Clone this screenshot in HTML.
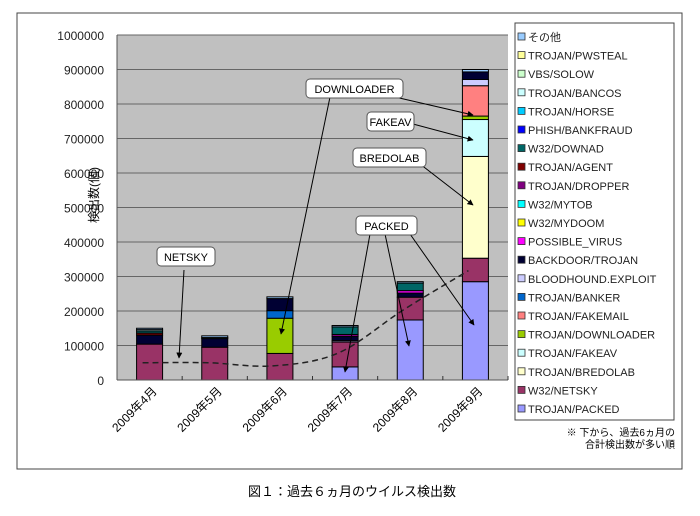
<!DOCTYPE html>
<html><head><meta charset="utf-8"><style>
body{margin:0;background:#fff;}
svg text{font-family:"Liberation Sans","Noto Sans CJK JP",sans-serif;}
</style></head><body>
<svg id="c" width="700" height="511" xmlns="http://www.w3.org/2000/svg">
<rect x="17" y="13" width="665" height="456" fill="#fff" stroke="#444" stroke-width="1"/>
<rect x="117" y="35" width="391" height="345" fill="#c0c0c0"/>
<g id="grid"></g><g id="bars"></g><g id="trend"></g><g id="ann"></g><g id="axes"></g><g id="legend"></g>
<text x="20" y="275" font-size="12" transform="rotate(-90 33 210)">検出数(個)</text>
<text x="675" y="436" font-size="10" text-anchor="end">※ 下から、過去6ヵ月の</text>
<text x="675" y="448" font-size="10" text-anchor="end">合計検出数が多い順</text>
<text x="352" y="496" font-size="13" text-anchor="middle">図１：過去６ヵ月のウイルス検出数</text>
</svg>
<script>
const categories=["2009年4月","2009年5月","2009年6月","2009年7月","2009年8月","2009年9月"];
const seriesNames=["TROJAN/PACKED","W32/NETSKY","TROJAN/BREDOLAB","TROJAN/FAKEAV","TROJAN/DOWNLOADER","TROJAN/FAKEMAIL","TROJAN/BANKER","BLOODHOUND.EXPLOIT","BACKDOOR/TROJAN","POSSIBLE_VIRUS","W32/MYDOOM","W32/MYTOB","TROJAN/DROPPER","TROJAN/AGENT","W32/DOWNAD","PHISH/BANKFRAUD","TROJAN/HORSE","TROJAN/BANCOS","VBS/SOLOW","TROJAN/PWSTEAL","その他"];
const seriesColors=["#9999ff","#993366","#ffffcc","#ccffff","#99cc00","#ff8080","#0066cc","#ccccff","#000033","#ff00ff","#ffff00","#00ffff","#800080","#800000","#006666","#0000ff","#00ccff","#ccffff","#ccffcc","#ffff99","#99ccff"];
// values in thousands, per series, per month
const packed=[0,0,0,38,174,285];
const netsky=[104,95,77,72,66,68];
const bredolab=[0,0,0,0,0,295];
const fakeav=[0,0,0,0,0,107];
const downloader=[0,0,102,0,0,10];
const fakemail=[0,0,0,0,0,88];
const banker=[0,0,22,0,0,0];
const bloodhound=[0,0,0,4,0,18];
const backdoor=[26,25,35,12,12,22];
const possibleVirus=[0,0,0,0,7,0];
const mydoom=[0,0,0,0,0,0];
const mytob=[0,0,0,0,0,0];
const dropper=[0,0,0,6,0,0];
const agent=[6,0,0,0,0,0];
const downad=[6,0,0,22,22,0];
const bankfraud=[0,0,0,0,0,0];
const horse=[0,3,0,0,0,0];
const bancos=[4,0,0,0,0,0];
const solow=[0,0,0,0,0,0];
const pwsteal=[0,0,0,0,0,0];
const other=[4,5,5,4,4,7];
const yTicks=[0,100000,200000,300000,400000,500000,600000,700000,800000,900000,1000000];
const trend=[50,50,41,78,203,317];
const series=[packed,netsky,bredolab,fakeav,downloader,fakemail,banker,bloodhound,backdoor,possibleVirus,mydoom,mytob,dropper,agent,downad,bankfraud,horse,bancos,solow,pwsteal,other];

const NS="http://www.w3.org/2000/svg";
const X0=117,X1=508,Y0=380,Y1=35;
const bw=(X1-X0)/categories.length;
const y=v=>Y0-(v/1000000)*(Y0-Y1);
const yk=v=>y(v*1000);
const xc=i=>X0+bw*(i+0.5);
function mk(tag,attrs,parent){const e=document.createElementNS(NS,tag);for(const k in attrs)e.setAttribute(k,attrs[k]);document.getElementById(parent).appendChild(e);return e;}

yTicks.forEach(t=>{
  const l=mk('line',{x1:X0,x2:X1,y1:y(t),y2:y(t),stroke:'#666','stroke-width':1},'grid');
  
  
  const tx=mk('text',{x:104,y:y(t)+5,'font-size':12,'text-anchor':'end',fill:'#222'},'axes');
  tx.textContent=String(t);
  
  
});
const ax=mk('line',{x1:X0,x2:X0,y1:Y1,y2:Y0,stroke:'#555'},'axes');


const bx=mk('line',{x1:X0,x2:X1,y1:Y0,y2:Y0,stroke:'#555'},'axes');


categories.forEach((c,i)=>{
  const tk=mk('line',{x1:X0+bw*(i+1),x2:X0+bw*(i+1),y1:Y0,y2:Y0-4,stroke:'#333'},'axes');
  
  
  const cx=xc(i)+8,cy=392;
  const t=mk('text',{x:cx,y:cy,'font-size':12,'text-anchor':'end',transform:`rotate(-45 ${cx} ${cy})`},'axes');
  t.textContent=c;
  
  
});
categories.forEach((c,i)=>{
  let acc=0;
  series.forEach((s,k)=>{
    const v=s[i]; if(!v) return;
    const r=mk('rect',{x:xc(i)-13,y:yk(acc+v),width:26,height:yk(acc)-yk(acc+v),fill:seriesColors[k],stroke:'#000','stroke-width':1},'bars');
    
    
    acc+=v;
  });
});
// smooth trend line
const pts=trend.map((v,i)=>[xc(i)-7,yk(v)]);
let d=`M${pts[0][0]},${pts[0][1]}`;
for(let i=0;i<pts.length-1;i++){
  const p0=pts[Math.max(i-1,0)],p1=pts[i],p2=pts[i+1],p3=pts[Math.min(i+2,pts.length-1)];
  d+=` C${p1[0]+(p2[0]-p0[0])/6},${p1[1]+(p2[1]-p0[1])/6} ${p2[0]-(p3[0]-p1[0])/6},${p2[1]-(p3[1]-p1[1])/6} ${p2[0]},${p2[1]}`;
}
const tl=mk('path',{d:d,fill:'none',stroke:'#222','stroke-width':1.5,'stroke-dasharray':'6,4'},'trend');



// annotations
mk('defs',{},'ann').innerHTML='<marker id="ar" viewBox="0 0 10 10" refX="9" refY="5" markerWidth="6" markerHeight="6" orient="auto"><path d="M0,0L10,5L0,10z" fill="#000"/></marker>';
const boxes=[["NETSKY",157,247,58],["DOWNLOADER",306,79,97],["FAKEAV",367,112,47],["BREDOLAB",353,148,73],["PACKED",356,216,61]];
const arrows=[[184,270,179,358],[330,97,281,334],[395,97,473,115],[413,124,473,140],[420,164,473,205],[370,234,345,372],[385,234,409,346],[410,234,474,325]];
arrows.forEach(a=>{
  const l=mk('line',{x1:a[0],y1:a[1],x2:a[2],y2:a[3],stroke:'#000','stroke-width':1,'marker-end':'url(#ar)'},'ann');
  
  
});
boxes.forEach(b=>{
  const r=mk('rect',{x:b[1],y:b[2],width:b[3],height:19,rx:4,fill:'#fff',stroke:'#555'},'ann');
  
  
  const t=mk('text',{x:b[1]+b[3]/2,y:b[2]+14,'font-size':11,'text-anchor':'middle'},'ann');
  t.textContent=b[0];
  
  
});
// legend
const lb=mk('rect',{x:515,y:23,width:159,height:397,fill:'#fff',stroke:'#444'},'legend');


for(let j=0;j<seriesNames.length;j++){
  const k=seriesNames.length-1-j;
  const yy=37+j*18.6;
  const s=mk('rect',{x:518,y:yy-4,width:7,height:7,fill:seriesColors[k],stroke:'#333','stroke-width':0.8},'legend');
  
  
  const t=mk('text',{x:528,y:yy+4,'font-size':11,fill:'#222'},'legend');
  t.textContent=seriesNames[k];
  
  
}
</script>
</body></html>
